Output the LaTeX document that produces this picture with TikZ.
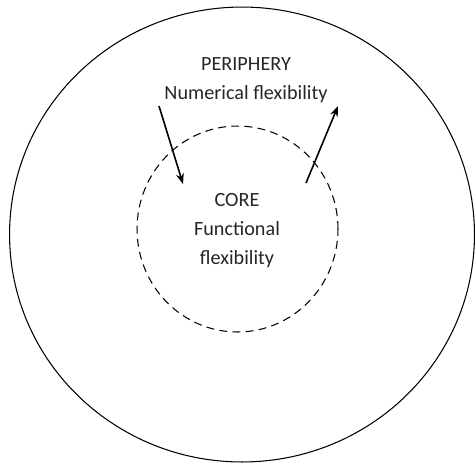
\documentclass[tikz,border=0pt]{standalone}
\usepackage{fontspec}
\setmainfont{Carlito}
\usetikzlibrary{shapes.geometric, arrows, arrows.meta}
\tikzstyle{arrow} = [line width=0.9pt,-{Stealth[length=6pt,width=4.5pt]}]
\tikzstyle{ring} = [ellipse, draw, line width=0.6pt, inner sep=0pt]
\tikzstyle{ringtext} = [align=center, font=\fontsize{11.5}{16.5}\selectfont, text=black!85]

\begin{document}
\begin{tikzpicture}[x=0.02cm, y=-0.02cm]
\useasboundingbox (0,0) rectangle (475,468);

\node [ring, minimum width=9.3cm, minimum height=9.1cm] (outer) at (242,234.5) {};
\node [ring, dashed, dash pattern=on 4.5pt off 3pt, minimum width=4.02cm, minimum height=4.12cm] (inner) at (237.5,229) {};

\node [ringtext] (periphery) at (246,80) {PERIPHERY\\Numerical flexibility};
\node [ringtext] (core) at (237,231) {CORE\\Functional\\flexibility};

\coordinate (in1) at (159,106);
\coordinate (in2) at (183,184);
\coordinate (out1) at (306,183);
\coordinate (out2) at (338,106);

\draw [arrow] (in1) to (in2);
\draw [arrow] (out1) to (out2);
\end{tikzpicture}
\end{document}
